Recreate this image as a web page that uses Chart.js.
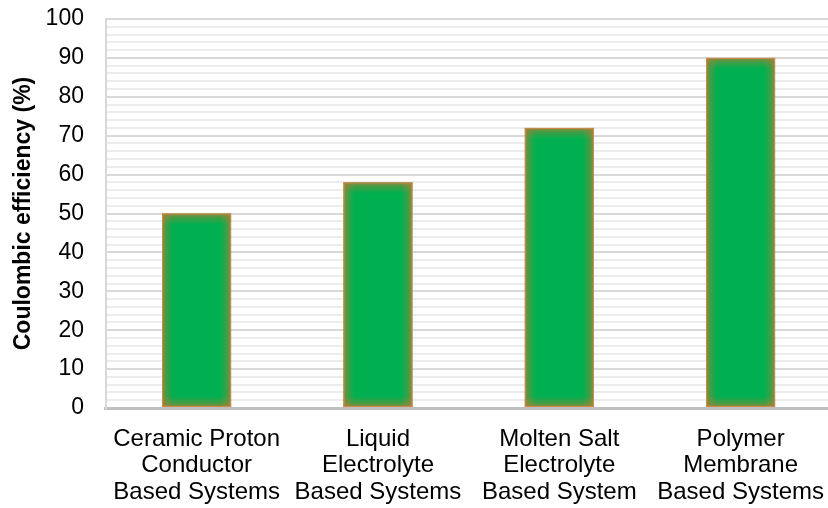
<!DOCTYPE html>
<html>
<head>
<meta charset="utf-8">
<script src="https://cdn.jsdelivr.net/npm/chart.js@4/dist/chart.umd.min.js"></script>
<style>
  html, body { margin: 0; padding: 0; overflow: hidden; background: #fff; }
  #wrap { width: 834px; height: 508px; position: relative; }
</style>
</head>
<body>
<div id="wrap"><canvas id="chart"></canvas></div>
<script>
// Coulombic efficiency by electrolyte / system type
const categories = [
  ['Ceramic Proton', 'Conductor', 'Based Systems'],
  ['Liquid', 'Electrolyte', 'Based Systems'],
  ['Molten Salt', 'Electrolyte', 'Based System'],
  ['Polymer', 'Membrane', 'Based Systems']
];
const efficiency = [50, 58, 72, 90];
const yMin = 0;
const yMax = 100;
const yMajorStep = 10;
const yMinorStep = 2;

const FONT = "'Liberation Sans', Arial, Helvetica, sans-serif";

// Soft orange inner glow along each bar's edges
const barGlow = {
  id: 'barGlow',
  afterDatasetsDraw(chart) {
    const ctx = chart.ctx;
    const meta = chart.getDatasetMeta(0);
    const g = 11;
    const stops = [[0, 'rgba(200,120,50,0.75)'], [0.35, 'rgba(200,120,50,0.35)'], [1, 'rgba(200,120,50,0)']];
    const paint = (gr) => { stops.forEach(([o, c]) => gr.addColorStop(o, c)); return gr; };
    ctx.save();
    meta.data.forEach(bar => {
      const { x, y, base, width } = bar.getProps(['x', 'y', 'base', 'width'], true);
      const l = x - width / 2, r = x + width / 2, t = Math.min(y, base), b = Math.max(y, base);
      ctx.fillStyle = paint(ctx.createLinearGradient(l, 0, l + g, 0));
      ctx.fillRect(l, t, g, b - t);
      ctx.fillStyle = paint(ctx.createLinearGradient(r, 0, r - g, 0));
      ctx.fillRect(r - g, t, g, b - t);
      ctx.fillStyle = paint(ctx.createLinearGradient(0, t, 0, t + g));
      ctx.fillRect(l, t, width, g);
      ctx.fillStyle = paint(ctx.createLinearGradient(0, b, 0, b - g));
      ctx.fillRect(l, b - g, width, g);
      ctx.strokeStyle = 'rgba(215,140,80,0.8)';
      ctx.lineWidth = 1;
      ctx.strokeRect(l + 0.5, t + 0.5, width - 1, b - t - 1);
    });
    ctx.restore();
  }
};

new Chart(document.getElementById('chart'), {
  type: 'bar',
  data: {
    labels: categories,
    datasets: [{
      data: efficiency,
      backgroundColor: '#00b050',
      borderWidth: 0,
      categoryPercentage: 1,
      barPercentage: 0.38
    }]
  },
  options: {
    responsive: true,
    maintainAspectRatio: false,
    animation: false,
    events: [],
    layout: { padding: { top: 19, left: 10, right: 0, bottom: 0 } },
    plugins: { legend: { display: false }, tooltip: { enabled: false } },
    scales: {
      x: {
        grid: { display: false },
        border: { display: true, color: '#bfbfbf', width: 3 },
        ticks: {
          color: '#000',
          font: { family: FONT, size: 24, lineHeight: 1.1 },
          padding: 10,
          maxRotation: 0,
          autoSkip: false
        },
        afterFit(scale) { scale.height = 100; }
      },
      yMinor: {
        position: 'left',
        min: yMin,
        max: yMax,
        z: -1,
        ticks: { display: false, stepSize: yMinorStep },
        grid: { color: '#ececec', lineWidth: 2, drawTicks: false },
        border: { display: false },
        afterFit(scale) { scale.width = 0; }
      },
      y: {
        position: 'left',
        min: yMin,
        max: yMax,
        ticks: {
          stepSize: yMajorStep,
          color: '#000',
          padding: 0,
          font: { family: FONT, size: 23 }
        },
        grid: { color: '#d9d9d9', lineWidth: 2, drawTicks: true, tickLength: 22, tickColor: 'rgba(0,0,0,0)' },
        border: { display: true, color: '#d9d9d9', width: 2 },
        title: {
          display: true,
          text: 'Coulombic efficiency (%)',
          color: '#000',
          font: { family: FONT, size: 23, weight: 'bold' },
          padding: { top: 0, bottom: 8 }
        }
      }
    }
  },
  plugins: [barGlow]
});
</script>
</body>
</html>
